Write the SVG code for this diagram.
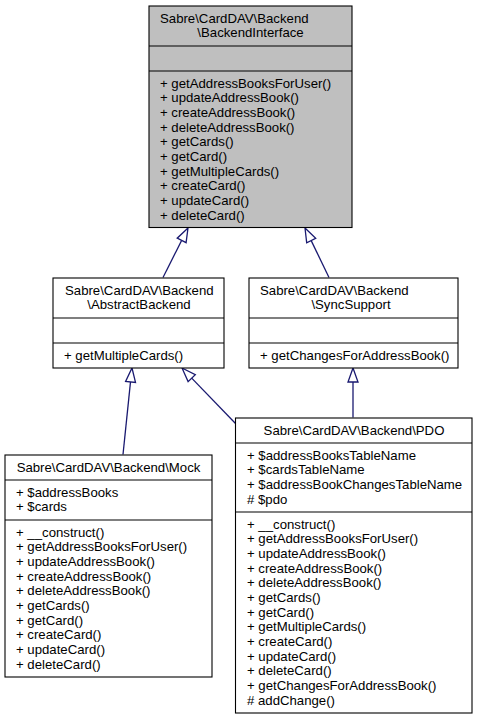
<svg xmlns="http://www.w3.org/2000/svg" width="477" height="720" viewBox="0 0 477 720">
<style>
.box{fill:#ffffff;stroke:#000000;stroke-width:1.1}
.hdr{fill:#bfbfbf;stroke:#000000;stroke-width:1.1}
.sep{stroke:#000000;stroke-width:1.1}
text{font-family:"Liberation Sans",Arial,Helvetica,sans-serif;font-size:13.2px;fill:#000000}
.m{text-anchor:middle}
.edge{stroke:#191970;stroke-width:1.3;fill:none}
.ah{stroke:#191970;stroke-width:1.3;fill:#ffffff}
</style>
<rect width="477" height="720" fill="#ffffff"/>
<g id="connectors">
  <line class="edge" x1="163" y1="277.5" x2="181.6" y2="240.5"/>
  <polygon class="ah" points="188,228 186.1,242.7 177.2,238.2"/>
  <line class="edge" x1="329" y1="277.5" x2="311.2" y2="240.6"/>
  <polygon class="ah" points="305,228 315.7,238.4 306.7,242.8"/>
  <line class="edge" x1="123" y1="454.5" x2="130.5" y2="381.9"/>
  <polygon class="ah" points="132,368 135.5,382.4 125.6,381.4"/>
  <line class="edge" x1="236" y1="424" x2="191.7" y2="378.1"/>
  <polygon class="ah" points="182,368 195.3,374.6 188.1,381.6"/>
  <line class="edge" x1="353" y1="417.5" x2="353" y2="382"/>
  <polygon class="ah" points="353,368 358,382 348,382"/>
</g>
<g id="BackendInterface">
  <rect class="hdr" x="149" y="6" width="203" height="221.5"/>
  <line class="sep" x1="149" y1="46" x2="352" y2="46"/>
  <line class="sep" x1="149" y1="71" x2="352" y2="71"/>
  <text x="160" y="22.7">Sabre\CardDAV\Backend</text>
  <text class="m" x="250.5" y="37.4">\BackendInterface</text>
  <text x="160" y="87.7">+ getAddressBooksForUser()</text>
  <text x="160" y="102.4">+ updateAddressBook()</text>
  <text x="160" y="117">+ createAddressBook()</text>
  <text x="160" y="131.7">+ deleteAddressBook()</text>
  <text x="160" y="146.4">+ getCards()</text>
  <text x="160" y="161">+ getCard()</text>
  <text x="160" y="175.7">+ getMultipleCards()</text>
  <text x="160" y="190.4">+ createCard()</text>
  <text x="160" y="205">+ updateCard()</text>
  <text x="160" y="219.7">+ deleteCard()</text>
</g>
<g id="AbstractBackend">
  <rect class="box" x="53" y="278" width="171" height="90"/>
  <line class="sep" x1="53" y1="318" x2="224" y2="318"/>
  <line class="sep" x1="53" y1="343" x2="224" y2="343"/>
  <text x="65" y="294.7">Sabre\CardDAV\Backend</text>
  <text class="m" x="139" y="309.4">\AbstractBackend</text>
  <text x="64" y="359.7">+ getMultipleCards()</text>
</g>
<g id="SyncSupport">
  <rect class="box" x="249" y="278" width="209" height="90"/>
  <line class="sep" x1="249" y1="318" x2="458" y2="318"/>
  <line class="sep" x1="249" y1="343" x2="458" y2="343"/>
  <text x="260" y="294.7">Sabre\CardDAV\Backend</text>
  <text class="m" x="351" y="309.4">\SyncSupport</text>
  <text x="260" y="359.7">+ getChangesForAddressBook()</text>
</g>
<g id="Mock">
  <rect class="box" x="5" y="455" width="207" height="222"/>
  <line class="sep" x1="5" y1="480" x2="212" y2="480"/>
  <line class="sep" x1="5" y1="520" x2="212" y2="520"/>
  <text class="m" x="108.5" y="471.7">Sabre\CardDAV\Backend\Mock</text>
  <text x="16" y="496.7">+ $addressBooks</text>
  <text x="16" y="511.4">+ $cards</text>
  <text x="16" y="536.7">+ __construct()</text>
  <text x="16" y="551.4">+ getAddressBooksForUser()</text>
  <text x="16" y="566">+ updateAddressBook()</text>
  <text x="16" y="580.7">+ createAddressBook()</text>
  <text x="16" y="595.4">+ deleteAddressBook()</text>
  <text x="16" y="610">+ getCards()</text>
  <text x="16" y="624.7">+ getCard()</text>
  <text x="16" y="639.4">+ createCard()</text>
  <text x="16" y="654">+ updateCard()</text>
  <text x="16" y="668.7">+ deleteCard()</text>
</g>
<g id="PDO">
  <rect class="box" x="235.5" y="418" width="236.5" height="295"/>
  <line class="sep" x1="235.5" y1="443" x2="472" y2="443"/>
  <line class="sep" x1="235.5" y1="512" x2="472" y2="512"/>
  <text class="m" x="354" y="434.7">Sabre\CardDAV\Backend\PDO</text>
  <text x="247" y="459.7">+ $addressBooksTableName</text>
  <text x="247" y="474.4">+ $cardsTableName</text>
  <text x="247" y="489">+ $addressBookChangesTableName</text>
  <text x="247" y="503.7"># $pdo</text>
  <text x="247" y="528.7">+ __construct()</text>
  <text x="247" y="543.4">+ getAddressBooksForUser()</text>
  <text x="247" y="558">+ updateAddressBook()</text>
  <text x="247" y="572.7">+ createAddressBook()</text>
  <text x="247" y="587.4">+ deleteAddressBook()</text>
  <text x="247" y="602">+ getCards()</text>
  <text x="247" y="616.7">+ getCard()</text>
  <text x="247" y="631.4">+ getMultipleCards()</text>
  <text x="247" y="646">+ createCard()</text>
  <text x="247" y="660.7">+ updateCard()</text>
  <text x="247" y="675.4">+ deleteCard()</text>
  <text x="247" y="690">+ getChangesForAddressBook()</text>
  <text x="247" y="704.7"># addChange()</text>
</g>
</svg>
